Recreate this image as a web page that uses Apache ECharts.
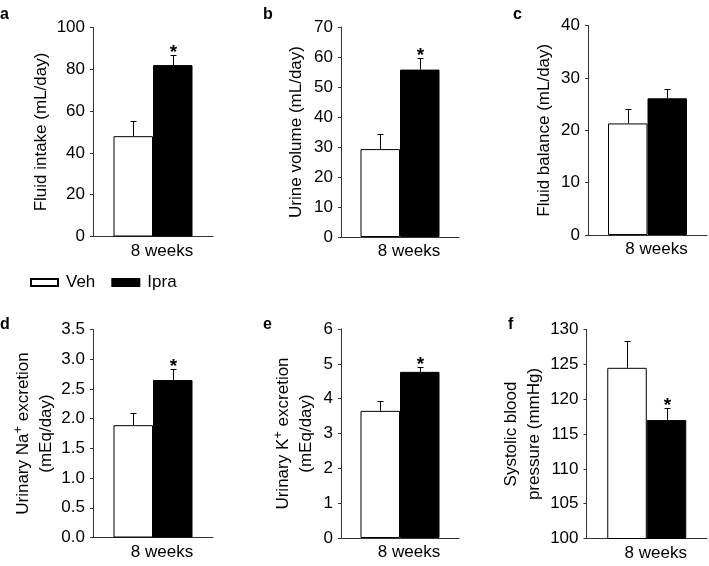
<!DOCTYPE html>
<html><head><meta charset="utf-8">
<script src="https://cdn.jsdelivr.net/npm/echarts@6/dist/echarts.min.js"></script>
<style>html,body{margin:0;padding:0;background:#fff}#c{width:709px;height:566px}</style>
</head><body><div id="c"></div>
<script>
// ---- data ----
const categories = ['8 weeks'];
const seriesNames = ['Veh', 'Ipra'];
const panelLetters = ['a', 'b', 'c', 'd', 'e', 'f'];
const vehMean = [48, 29.3, 21.3, 1.89, 3.65, 124.5];
const vehSem = [7.5, 4.9, 2.7, 0.20, 0.27, 3.8];
const ipraMean = [82, 55.8, 26.1, 2.65, 4.77, 117.0];
const ipraSem = [4.8, 3.9, 1.8, 0.19, 0.15, 1.7];
const ipraSignificant = [1, 1, 0, 1, 1, 1];
const yMin = [0, 0, 0, 0, 0, 100];
const yMax = [100, 70, 40, 3.5, 6, 130];
const yInterval = [20, 10, 10, 0.5, 1, 5];
const yDecimals = [0, 0, 0, 1, 0, 0];
const yNames = [
  'Fluid intake (mL/day)',
  'Urine volume (mL/day)',
  'Fluid balance (mL/day)',
  'Urinary Na{sup|+} excretion\n(mEq/day)',
  'Urinary K{sup|+} excretion\n(mEq/day)',
  'Systolic blood\npressure (mmHg)'
];

// ---- layout ----
const FONT = "'Liberation Sans', Arial, sans-serif";
const BAR_W = 39.5;
const grids = [
  {left: 93, top: 27.5, width: 120, height: 209},
  {left: 341, top: 27, width: 118, height: 210},
  {left: 588, top: 25.5, width: 119, height: 209.5},
  {left: 93, top: 329.5, width: 120, height: 208},
  {left: 341, top: 329, width: 118, height: 209},
  {left: 586.5, top: 329.5, width: 120.5, height: 209}
];
const nameGaps = [40, 33, 32, 34, 23, 34];
const letterPos = [[0, 7], [263, 7], [513, 7], [0, 317], [263, 317], [508, 317]];

const AXIS_COLOR = '#333';

function errRenderer(side) {
  return function (params, api) {
    const mean = api.value(1), sem = api.value(2), sig = api.value(3);
    const base = api.coord([0, mean]);
    const top = api.coord([0, mean + sem]);
    const x = Math.round(base[0] + side * BAR_W / 2) + 0.5;
    const ty = Math.round(top[1]) + 0.5;
    const children = [
      {type: 'line', shape: {x1: x, y1: base[1], x2: x, y2: ty}, style: {stroke: '#000', lineWidth: 1}},
      {type: 'line', shape: {x1: x - 3, y1: ty, x2: x + 3, y2: ty}, style: {stroke: '#000', lineWidth: 1}}
    ];
    if (sig) {
      children.push({type: 'text', x: x, y: ty - 3,
        style: {text: '*', font: 'bold 19px ' + FONT, fill: '#000', align: 'center', verticalAlign: 'middle'}});
    }
    return {type: 'group', children: children};
  };
}

const option = {
  animation: false,
  backgroundColor: '#fff',
  legend: {
    left: 25, top: 269, itemWidth: 27, itemHeight: 7, itemGap: 16, icon: 'rect',
    textStyle: {fontSize: 17, fontFamily: FONT, color: '#000', padding: [0, 0, 0, 3]},
    data: seriesNames
  },
  grid: grids.map(g => Object.assign({containLabel: false}, g)),
  xAxis: grids.map((g, i) => ({
    type: 'category', gridIndex: i, data: categories,
    axisLine: {lineStyle: {color: AXIS_COLOR, width: 1}},
    axisTick: {show: false},
    axisLabel: {fontSize: 17, fontFamily: FONT, color: '#000', margin: 6, padding: [0, 0, 0, 18]}
  })),
  yAxis: grids.map((g, i) => ({
    type: 'value', gridIndex: i, min: yMin[i], max: yMax[i], interval: yInterval[i],
    name: yNames[i], nameLocation: 'middle', nameGap: nameGaps[i], nameRotate: 90,
    nameTextStyle: {fontSize: 17, fontFamily: FONT, color: '#000', lineHeight: 23,
      rich: {sup: {fontSize: 13, fontFamily: FONT, color: '#000', verticalAlign: 'top', lineHeight: 13}}},
    axisLine: {show: true, lineStyle: {color: AXIS_COLOR, width: 1}},
    axisTick: {show: true, length: 3, lineStyle: {color: AXIS_COLOR}},
    splitLine: {show: false},
    axisLabel: {fontSize: 17, fontFamily: FONT, color: '#000', margin: 8,
      formatter: v => v.toFixed(yDecimals[i])}
  })),
  graphic: panelLetters.map((t, i) => ({
    type: 'text', left: letterPos[i][0], top: letterPos[i][1],
    style: {text: t, font: 'bold 16px ' + FONT, fill: '#000'}
  })),
  series: []
};

grids.forEach((g, i) => {
  option.series.push({
    name: seriesNames[0], type: 'bar', xAxisIndex: i, yAxisIndex: i, barWidth: BAR_W, barGap: '0%',
    itemStyle: {color: '#fff', borderColor: '#000', borderWidth: 1},
    data: [vehMean[i]]
  });
  option.series.push({
    name: seriesNames[1], type: 'bar', xAxisIndex: i, yAxisIndex: i, barWidth: BAR_W, barGap: '0%',
    itemStyle: {color: '#000', borderColor: '#000', borderWidth: 1},
    data: [ipraMean[i]]
  });
  option.series.push({
    type: 'custom', xAxisIndex: i, yAxisIndex: i, z: 5, silent: true,
    renderItem: errRenderer(-1), encode: {x: 0, y: 1},
    data: [[0, vehMean[i], vehSem[i], 0]]
  });
  option.series.push({
    type: 'custom', xAxisIndex: i, yAxisIndex: i, z: 5, silent: true,
    renderItem: errRenderer(1), encode: {x: 0, y: 1},
    data: [[0, ipraMean[i], ipraSem[i], ipraSignificant[i]]]
  });
});

const chart = echarts.init(document.getElementById('c'), null, {renderer: 'canvas'});
chart.setOption(option);
</script>
</body></html>
